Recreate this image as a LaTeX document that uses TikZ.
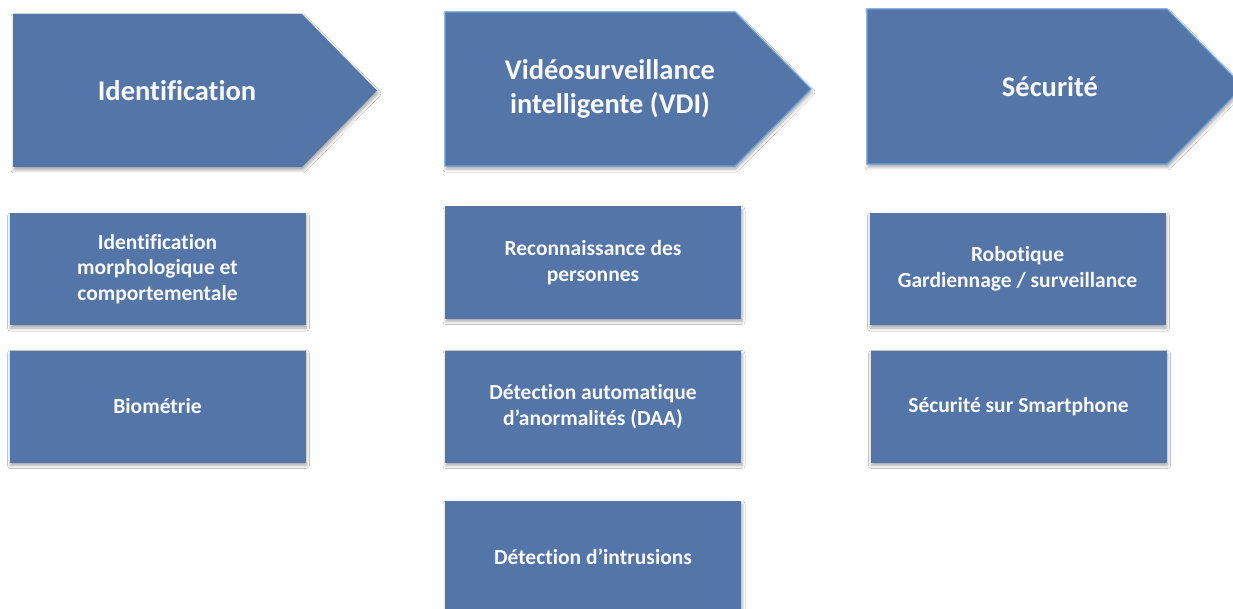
\documentclass[tikz,border=0pt]{standalone}
\usepackage{fontspec}
\setmainfont[Ligatures=NoCommon]{Carlito}
\usetikzlibrary{shadows.blur}
\definecolor{boxblue}{RGB}{84,117,168}
\definecolor{edgeblue}{RGB}{104,160,218}
\definecolor{txtwhite}{RGB}{250,250,252}
\tikzset{
  x=1pt,y=-1pt,
  softshadow/.style={blur shadow={shadow xshift=1pt,shadow yshift=-3pt,shadow blur steps=6,shadow opacity=35,shadow blur radius=3pt}},
  headtext/.style={text=txtwhite,font=\fontsize{28.5}{34}\selectfont\bfseries,align=center,inner sep=0pt},
  headarrow/.style={fill=boxblue,softshadow},
  subbox/.style={rectangle,fill=boxblue,softshadow,minimum width=296pt,minimum height=112pt,
    text=txtwhite,font=\fontsize{21.5}{25.5}\selectfont\bfseries,align=center,inner sep=0pt}
}
\begin{document}
\begin{tikzpicture}
\useasboundingbox (0,0) rectangle (1233,609);
\fill[white] (0,0) rectangle (1233,609);
% header arrows
\path[headarrow] (13,14) -- (302,14) -- (377,90.5) -- (302,167) -- (13,167) -- cycle;
\node[headtext] (h1) at (177,91) {Identification};
\path[headarrow,draw=edgeblue,line width=1.2pt] (445,12) -- (735,12) -- (811,89) -- (735,166) -- (445,166) -- cycle;
\node[headtext] (h2) at (610,89) {Vidéosurveillance\\intelligente (VDI)};
\path[headarrow,draw=edgeblue,line width=1.2pt] (867,9) -- (1167,9) -- (1243,86.5) -- (1167,164) -- (867,164) -- cycle;
\node[headtext] (h3) at (1050,87) {Sécurité};
% column 1
\node[subbox] (a1) at (157.5,269) {Identification\\morphologique et\\comportementale};
\node[subbox] (a2) at (157.5,406.5) {Biométrie};
% column 2
\node[subbox] (b1) at (593,262.5) {Reconnaissance des\\personnes};
\node[subbox] (b2) at (593,406.5) {Détection automatique\\d’anormalités (DAA)};
\node[subbox] (b3) at (593,557) {Détection d’intrusions};
% column 3
\node[subbox] (c1) at (1017.5,269) {Robotique\\Gardiennage / surveillance};
\node[subbox] (c2) at (1018.5,406.5) {Sécurité sur Smartphone};
\end{tikzpicture}
\end{document}
